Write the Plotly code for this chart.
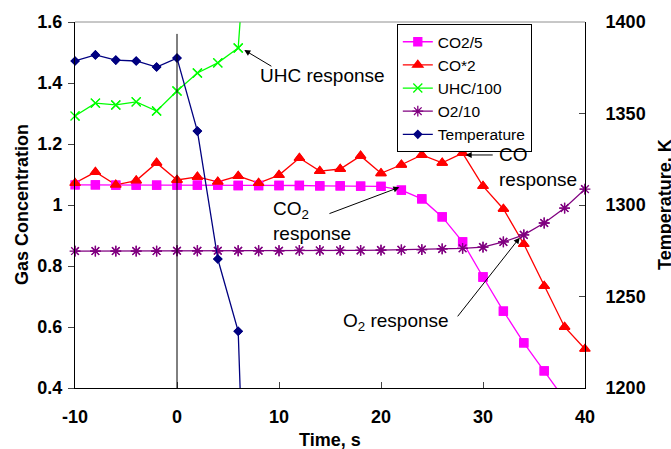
import plotly.graph_objects as go

# ---------------- data ----------------
time_gas = [-10, -8, -6, -4, -2, 0, 2, 4, 6, 8, 10, 12, 14, 16, 18, 20, 22, 24, 26, 28, 30, 32, 34, 36, 38, 40]
co2_div5 = [1.066, 1.066, 1.065, 1.065, 1.065, 1.065, 1.065, 1.065, 1.064, 1.064, 1.064, 1.064, 1.063, 1.063, 1.062, 1.061,
            1.049, 1.020, 0.961, 0.879, 0.764, 0.652, 0.548, 0.456, 0.362, 0.27]
co_x2 = [1.072, 1.108, 1.066, 1.080, 1.138, 1.082, 1.092, 1.076, 1.095, 1.072, 1.098, 1.154, 1.111, 1.118, 1.161, 1.104,
         1.132, 1.164, 1.138, 1.170, 1.062, 0.987, 0.872, 0.734, 0.600, 0.528]
o2_div10 = [0.849, 0.849, 0.849, 0.849, 0.849, 0.850, 0.850, 0.850, 0.850, 0.850, 0.850, 0.851, 0.851, 0.851, 0.851, 0.852,
            0.853, 0.854, 0.856, 0.858, 0.862, 0.879, 0.902, 0.941, 0.990, 1.052]

time_uhc = [-10, -8, -6, -4, -2, 0, 2, 4, 6, 8]
uhc_div100 = [1.292, 1.334, 1.328, 1.338, 1.308, 1.374, 1.433, 1.466, 1.515, 2.45]

time_temp = [-10, -8, -6, -4, -2, 0, 2, 4, 6, 8]
temperature = [1378.7, 1382.0, 1379.2, 1378.7, 1375.4, 1380.3, 1340.4, 1270.5, 1231.0, 900.0]

y_ticks = [0.4, 0.6, 0.8, 1.0, 1.2, 1.4, 1.6]
y2_ticks = [1200, 1250, 1300, 1350, 1400]
x_ticks = [-10, 0, 10, 20, 30, 40]
x_ticklabels = ["-10", "0", "10", "20", "30", "40"]

FONT = "Liberation Sans, Arial, sans-serif"

series = [
    dict(name="CO2/5", x=time_gas, y=co2_div5, color="#FF00FF", symbol="square", size=8, yaxis="y", lw=1.3),
    dict(name="CO*2", x=time_gas, y=co_x2, color="#FF0000", symbol="triangle-up", size=9, yaxis="y", lw=1.3),
    dict(name="UHC/100", x=time_uhc, y=uhc_div100, color="#00FF00", symbol="x-thin-open", size=9, yaxis="y", lw=1.3),
    dict(name="O2/10", x=time_gas, y=o2_div10, color="#800080", symbol="asterisk-open", size=9, yaxis="y", lw=1.3),
    dict(name="Temperature", x=time_temp, y=temperature, color="#000080", symbol="diamond", size=6, yaxis="y2", lw=1.3),
]

fig = go.Figure()
for s in series:
    mk = dict(symbol=s["symbol"], size=s["size"], color=s["color"],
              line=dict(color=s["color"], width=1.3))
    fig.add_trace(go.Scatter(x=s["x"], y=s["y"], name=s["name"], yaxis=s["yaxis"],
                             mode="lines+markers", line=dict(color=s["color"], width=s["lw"]),
                             marker=mk, cliponaxis=True))
for s in series:
    mk = dict(symbol=s["symbol"], size=s["size"], color=s["color"],
              line=dict(color=s["color"], width=1.3))
    fig.add_trace(go.Scatter(x=s["x"], y=s["y"], name=s["name"], yaxis=s["yaxis"],
                             mode="markers", marker=mk, cliponaxis=False, showlegend=False))

tickfont = dict(family=FONT, size=18, color="black", weight="bold")
fig.update_layout(
    width=671, height=449,
    margin=dict(l=75, r=86, t=22, b=61),
    paper_bgcolor="white", plot_bgcolor="white",
    font=dict(family=FONT, color="black"),
    showlegend=True,
    legend=dict(x=0.631, y=0.994, xanchor="left", yanchor="top",
                bgcolor="white", bordercolor="black", borderwidth=1,
                font=dict(family=FONT, size=15.5, color="black"),
                itemwidth=30, tracegroupgap=0),
    xaxis=dict(range=[-10, 40], tickvals=x_ticks, ticktext=x_ticklabels, ticks="inside", ticklen=6,
               showline=True, linecolor="black", linewidth=1, showgrid=False, zeroline=False,
               tickfont=tickfont, ticklabelstandoff=12),
    yaxis=dict(range=[0.4, 1.6], tickvals=y_ticks, ticktext=[f"{v:g}" for v in y_ticks],
               ticks="outside", ticklen=6,
               showline=True, linecolor="black", linewidth=1, showgrid=False, zeroline=False,
               tickfont=tickfont, ticklabelstandoff=2),
    yaxis2=dict(range=[1200, 1400], tickvals=y2_ticks, overlaying="y", side="right",
                ticks="inside", ticklen=6,
                showline=True, linecolor="black", linewidth=1, showgrid=False, zeroline=False,
                tickfont=tickfont, ticklabelstandoff=16),
)

# top border (gray) and vertical line at t=0
fig.add_shape(type="line", xref="paper", yref="paper", x0=0, x1=1, y0=1, y1=1,
              line=dict(color="#909090", width=1))
fig.add_shape(type="line", xref="x", yref="y", x0=0, x1=0, y0=0.4, y1=1.561,
              line=dict(color="black", width=1))

# axis titles
title_font = dict(family=FONT, size=18, color="black", weight="bold")
fig.add_annotation(text="Gas Concentration", xref="paper", yref="paper", x=(22 - 75) / 510, y=0.5,
                   textangle=-90, showarrow=False, font=title_font, xanchor="center", yanchor="middle")
fig.add_annotation(text="Temperature, K", xref="paper", yref="paper", x=(665 - 75) / 510, y=0.5,
                   textangle=-90, showarrow=False, font=title_font, xanchor="center", yanchor="middle")
fig.add_annotation(text="Time, s", xref="paper", yref="paper", x=0.5, y=-(440 - 388) / 366,
                   showarrow=False, font=title_font, xanchor="center", yanchor="middle")

# callouts
note_font = dict(family=FONT, size=19, color="black")
fig.add_annotation(text="UHC response", x=7.94, y=1.423, xref="x", yref="y", showarrow=False,
                   xanchor="left", yanchor="middle", font=note_font)
fig.add_annotation(text="", x=6.6, y=1.508, ax=9.4, ay=1.452, xref="x", yref="y", axref="x", ayref="y",
                   showarrow=True, arrowhead=2, arrowsize=1.2, arrowwidth=1, arrowcolor="black")
fig.add_annotation(text="CO<br>response", x=31.4, y=1.126, xref="x", yref="y", showarrow=False,
                   xanchor="left", yanchor="middle", align="left", font=note_font)
fig.add_annotation(text="", x=28.3, y=1.164, ax=31.1, ay=1.164, xref="x", yref="y", axref="x", ayref="y",
                   showarrow=True, arrowhead=2, arrowsize=1.2, arrowwidth=1, arrowcolor="black")
fig.add_annotation(text="CO<sub>2</sub><br>response", x=9.2, y=0.946, xref="x", yref="y", showarrow=False,
                   xanchor="left", yanchor="middle", align="left", font=note_font)
fig.add_annotation(text="", x=21.8, y=1.058, ax=14.8, ay=0.970, xref="x", yref="y", axref="x", ayref="y",
                   showarrow=True, arrowhead=2, arrowsize=1.2, arrowwidth=1, arrowcolor="black")
fig.add_annotation(text="O<sub>2</sub> response", x=26.9, y=0.616, xref="x", yref="y", showarrow=False,
                   xanchor="right", yanchor="middle", font=note_font)
fig.add_annotation(text="", x=33.6, y=0.893, ax=27.4, ay=0.630, xref="x", yref="y", axref="x", ayref="y",
                   showarrow=True, arrowhead=2, arrowsize=1.2, arrowwidth=1, arrowcolor="black")

fig.write_html("out.html")
